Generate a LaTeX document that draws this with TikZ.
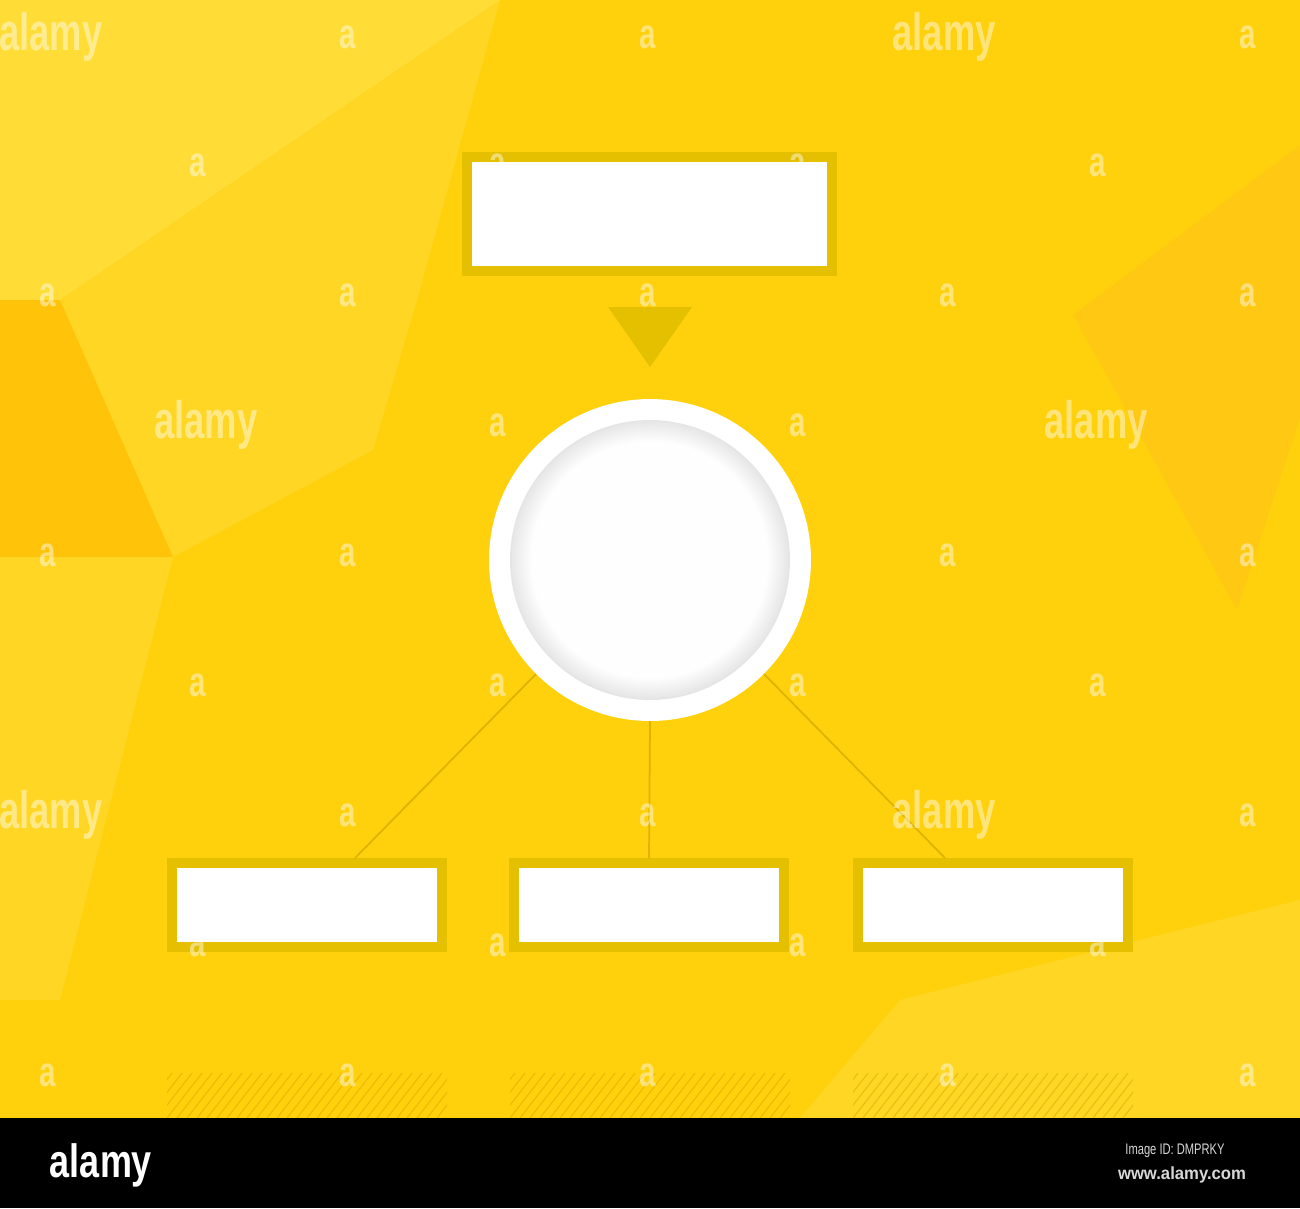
\documentclass[tikz,border=0pt]{standalone}
\usepackage{fontspec}
\setmainfont{Liberation Sans}
\usetikzlibrary{calc}

\definecolor{bgbase}{HTML}{FFD10C}
\definecolor{bglight}{HTML}{FFDD36}
\definecolor{bgpale}{HTML}{FFD624}
\definecolor{bgdeep}{HTML}{FFC812}
\definecolor{bgorange}{HTML}{FFC40A}
\definecolor{boxedge}{HTML}{E5C000}
\definecolor{linkcol}{HTML}{DDB300}
\definecolor{hatchcol}{HTML}{D9A400}
\definecolor{tagtext}{HTML}{D8D8D8}

\tikzset{
  frame/.style={draw=boxedge, line width=0.2cm, fill=white, inner sep=0pt},
  link/.style={draw=linkcol, line width=0.035cm},
  hatch/.style={draw=hatchcol, line width=0.02cm, opacity=0.55},
  wmark/.style={text=white, text opacity=0.45, inner sep=0pt, xscale=0.7,
    font=\fontsize{24}{24}\selectfont\bfseries},
  wlogo/.style={text=white, text opacity=0.45, inner sep=0pt, xscale=0.69,
    font=\fontsize{30}{30}\selectfont\bfseries}
}

\begin{document}
\begin{tikzpicture}[x=0.02cm, y=-0.02cm]
\useasboundingbox (0,0) rectangle (1300,1208);

% background facets
\fill[bgbase] (0,0) rectangle (1300,1118);
\fill[bglight] (0,0) -- (500,0) -- (60,300) -- (0,300) -- cycle;
\fill[bgpale] (500,0) -- (417,300) -- (373,450) -- (173,557) -- (60,300) -- cycle;
\fill[bgorange] (0,300) -- (60,300) -- (173,557) -- (0,557) -- cycle;
\fill[bgpale] (0,557) -- (173,557) -- (60,1000) -- (0,1000) -- cycle;
\fill[bgdeep] (1073,315) -- (1300,145) -- (1300,418) -- (1237,610) -- cycle;
\fill[bgpale] (900,1000) -- (1300,900) -- (1300,1118) -- (800,1118) -- cycle;

% boxes
\node[frame, minimum width=7.3cm, minimum height=2.28cm] (topbox) at (649.5,214) {};
\node[fill=white, circle, inner sep=0pt, minimum size=6.44cm] (hub) at (650,560) {};
% soft rim inside the ring
\foreach \k [evaluate=\k as \g using 10-0.8*\k,
             evaluate=\k as \rr using 2.8-0.035*\k] in {0,...,12}
  \fill[black!\g] (hub.center) circle[radius=\rr cm];
\node[frame, minimum width=5.4cm, minimum height=1.68cm] (leftbox) at (307,905) {};
\node[frame, minimum width=5.4cm, minimum height=1.68cm] (midbox) at (649,905) {};
\node[frame, minimum width=5.4cm, minimum height=1.68cm] (rightbox) at (993,905) {};

% arrow head under the top box
\fill[boxedge] (608,307) -- (692,307) -- (650,367) -- cycle;

% connectors
\draw[link] (hub.south west) -- ($(leftbox.north)+(48,0)$);
\draw[link] (hub.south) -- (midbox.north);
\draw[link] (hub.south east) -- ($(rightbox.north)+(-48,0)$);

% hatched strips
\foreach \s in {167,510,853} {
  \begin{scope}
    \clip (\s,1073) rectangle (\s+280,1118);
    \foreach \i in {0,...,32}
      \draw[hatch] (\s+\i*10-40,1118) -- ++(35,-45);
  \end{scope}
}

% watermarks
\foreach \c in {348,648,1248} {
  \node[wmark] (wa0-\c) at (\c,37) {a};
  \node[wmark] (wa6-\c) at (\c,815) {a};
}
\foreach \r in {295,555,1075}
  \foreach \c in {48,348,648,948,1248}
    \node[wmark] (wb-\r-\c) at (\c,\r) {a};
\foreach \r in {165,685,945}
  \foreach \c in {198,498,798,1098}
    \node[wmark] (wc-\r-\c) at (\c,\r) {a};
\foreach \c in {498,798}
  \node[wmark] (wd-\c) at (\c,425) {a};
\node[wlogo] (logo1) at (51,37) {alamy};
\node[wlogo] (logo2) at (944,37) {alamy};
\node[wlogo] (logo3) at (206,425) {alamy};
\node[wlogo] (logo4) at (1096,425) {alamy};
\node[wlogo] (logo5) at (51,815) {alamy};
\node[wlogo] (logo6) at (944,815) {alamy};

% footer bar
\fill[black] (0,1118) rectangle (1300,1208);
\node[text=white, inner sep=0pt, xscale=0.77, font=\fontsize{26.6}{26.6}\selectfont\bfseries] (brand) at (101,1165) {alamy};
\node[text=tagtext, inner sep=0pt, xscale=0.73, font=\fontsize{8.7}{8.7}\selectfont] (imgid) at (1175,1151) {Image ID: DMPRKY};
\node[text=tagtext, inner sep=0pt, xscale=0.95, font=\fontsize{10}{10}\selectfont\bfseries] (site) at (1182,1175) {www.alamy.com};
\end{tikzpicture}
\end{document}
